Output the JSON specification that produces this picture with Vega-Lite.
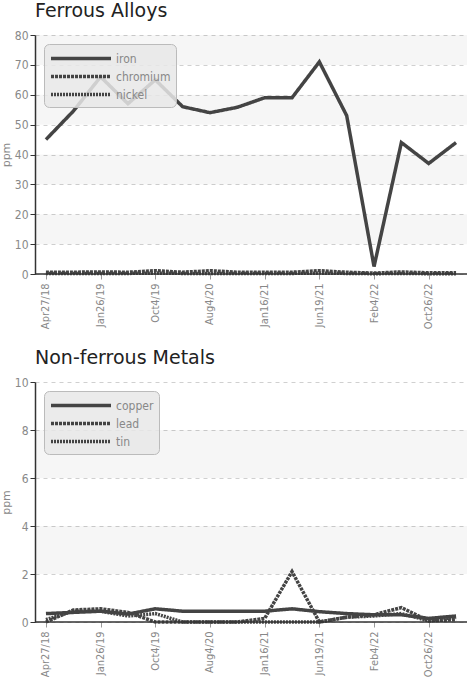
{
  "$schema": "https://vega.github.io/schema/vega-lite/v6.json",
  "padding": {"left": 0, "top": 2, "right": 0, "bottom": 0},
  "background": "white",
  "spacing": 20,
  "config": {
    "view": {"stroke": null},
    "title": {"font": "DejaVu Sans", "fontSize": 19, "fontWeight": "normal", "color": "#222", "anchor": "start", "frame": "group", "offset": 8},
    "axis": {"labelFont": "'DejaVu Sans Condensed', 'Liberation Sans Narrow', Roboto, sans-serif", "labelFontSize": 12, "labelColor": "#888", "labelOverlap": false, "titleFont": "DejaVu Sans", "titleFontSize": 11, "titleFontWeight": "normal", "titleColor": "#888", "domainColor": "#333", "domainWidth": 1.5, "tickColor": "#333", "gridColor": "#d0d0d0", "gridDash": [4, 4], "tickSize": 5},
    "axisX": {"labelFontSize": 11},
    "legend": {"orient": "top-left", "offset": 9, "fillColor": "rgba(232,232,232,0.85)", "strokeColor": "#bbb", "cornerRadius": 5, "padding": 5, "labelColor": "#888", "labelFont": "'DejaVu Sans Condensed', 'Liberation Sans Narrow', Roboto, sans-serif", "labelFontSize": 12, "symbolType": "M-1,0H7", "symbolSize": 225, "symbolStrokeColor": "#444", "rowPadding": 1, "labelOffset": 48}
  },
  "datasets": {
    "bands1": [{"lo": 10, "hi": 20}, {"lo": 30, "hi": 40}, {"lo": 50, "hi": 60}, {"lo": 70, "hi": 80}],
    "bands2": [{"lo": 2, "hi": 4}, {"lo": 6, "hi": 8}],
    "ferrous": [
      {"date": "Apr27/18", "metal": "iron", "ppm": 45},
      {"date": "Sep14/18", "metal": "iron", "ppm": 54.5},
      {"date": "Jan26/19", "metal": "iron", "ppm": 66},
      {"date": "Jun5/19", "metal": "iron", "ppm": 57},
      {"date": "Oct4/19", "metal": "iron", "ppm": 65},
      {"date": "Feb20/20", "metal": "iron", "ppm": 56},
      {"date": "Aug4/20", "metal": "iron", "ppm": 54},
      {"date": "Nov10/20", "metal": "iron", "ppm": 55.8},
      {"date": "Jan16/21", "metal": "iron", "ppm": 59},
      {"date": "Mar30/21", "metal": "iron", "ppm": 59},
      {"date": "Jun19/21", "metal": "iron", "ppm": 71},
      {"date": "Sep24/21", "metal": "iron", "ppm": 53},
      {"date": "Feb4/22", "metal": "iron", "ppm": 2.5},
      {"date": "Jun8/22", "metal": "iron", "ppm": 44},
      {"date": "Oct26/22", "metal": "iron", "ppm": 37},
      {"date": "Feb15/23", "metal": "iron", "ppm": 44},
      {"date": "Apr27/18", "metal": "chromium", "ppm": 0.6},
      {"date": "Sep14/18", "metal": "chromium", "ppm": 0.6},
      {"date": "Jan26/19", "metal": "chromium", "ppm": 0.7},
      {"date": "Jun5/19", "metal": "chromium", "ppm": 0.6},
      {"date": "Oct4/19", "metal": "chromium", "ppm": 1.1},
      {"date": "Feb20/20", "metal": "chromium", "ppm": 0.6},
      {"date": "Aug4/20", "metal": "chromium", "ppm": 1.1},
      {"date": "Nov10/20", "metal": "chromium", "ppm": 0.6},
      {"date": "Jan16/21", "metal": "chromium", "ppm": 0.6},
      {"date": "Mar30/21", "metal": "chromium", "ppm": 0.6},
      {"date": "Jun19/21", "metal": "chromium", "ppm": 1.1},
      {"date": "Sep24/21", "metal": "chromium", "ppm": 0.6},
      {"date": "Feb4/22", "metal": "chromium", "ppm": 0.3},
      {"date": "Jun8/22", "metal": "chromium", "ppm": 0.7},
      {"date": "Oct26/22", "metal": "chromium", "ppm": 0.4},
      {"date": "Feb15/23", "metal": "chromium", "ppm": 0.4},
      {"date": "Apr27/18", "metal": "nickel", "ppm": 0.2},
      {"date": "Sep14/18", "metal": "nickel", "ppm": 0.2},
      {"date": "Jan26/19", "metal": "nickel", "ppm": 0.2},
      {"date": "Jun5/19", "metal": "nickel", "ppm": 0.2},
      {"date": "Oct4/19", "metal": "nickel", "ppm": 0.3},
      {"date": "Feb20/20", "metal": "nickel", "ppm": 0.2},
      {"date": "Aug4/20", "metal": "nickel", "ppm": 0.2},
      {"date": "Nov10/20", "metal": "nickel", "ppm": 0.2},
      {"date": "Jan16/21", "metal": "nickel", "ppm": 0.2},
      {"date": "Mar30/21", "metal": "nickel", "ppm": 0.2},
      {"date": "Jun19/21", "metal": "nickel", "ppm": 0.3},
      {"date": "Sep24/21", "metal": "nickel", "ppm": 0.2},
      {"date": "Feb4/22", "metal": "nickel", "ppm": 0.1},
      {"date": "Jun8/22", "metal": "nickel", "ppm": 0.2},
      {"date": "Oct26/22", "metal": "nickel", "ppm": 0.1},
      {"date": "Feb15/23", "metal": "nickel", "ppm": 0.1}
    ],
    "nonferrous": [
      {"date": "Apr27/18", "metal": "copper", "ppm": 0.35},
      {"date": "Sep14/18", "metal": "copper", "ppm": 0.4},
      {"date": "Jan26/19", "metal": "copper", "ppm": 0.45},
      {"date": "Jun5/19", "metal": "copper", "ppm": 0.33},
      {"date": "Oct4/19", "metal": "copper", "ppm": 0.55},
      {"date": "Feb20/20", "metal": "copper", "ppm": 0.45},
      {"date": "Aug4/20", "metal": "copper", "ppm": 0.45},
      {"date": "Nov10/20", "metal": "copper", "ppm": 0.45},
      {"date": "Jan16/21", "metal": "copper", "ppm": 0.45},
      {"date": "Mar30/21", "metal": "copper", "ppm": 0.55},
      {"date": "Jun19/21", "metal": "copper", "ppm": 0.43},
      {"date": "Sep24/21", "metal": "copper", "ppm": 0.35},
      {"date": "Feb4/22", "metal": "copper", "ppm": 0.3},
      {"date": "Jun8/22", "metal": "copper", "ppm": 0.3},
      {"date": "Oct26/22", "metal": "copper", "ppm": 0.15},
      {"date": "Feb15/23", "metal": "copper", "ppm": 0.25},
      {"date": "Apr27/18", "metal": "lead", "ppm": 0.0},
      {"date": "Sep14/18", "metal": "lead", "ppm": 0.5},
      {"date": "Jan26/19", "metal": "lead", "ppm": 0.55},
      {"date": "Jun5/19", "metal": "lead", "ppm": 0.4},
      {"date": "Oct4/19", "metal": "lead", "ppm": 0.0},
      {"date": "Feb20/20", "metal": "lead", "ppm": 0.0},
      {"date": "Aug4/20", "metal": "lead", "ppm": 0.0},
      {"date": "Nov10/20", "metal": "lead", "ppm": 0.0},
      {"date": "Jan16/21", "metal": "lead", "ppm": 0.15},
      {"date": "Mar30/21", "metal": "lead", "ppm": 2.1},
      {"date": "Jun19/21", "metal": "lead", "ppm": 0.0},
      {"date": "Sep24/21", "metal": "lead", "ppm": 0.2},
      {"date": "Feb4/22", "metal": "lead", "ppm": 0.3},
      {"date": "Jun8/22", "metal": "lead", "ppm": 0.6},
      {"date": "Oct26/22", "metal": "lead", "ppm": 0.05},
      {"date": "Feb15/23", "metal": "lead", "ppm": 0.1},
      {"date": "Apr27/18", "metal": "tin", "ppm": 0.1},
      {"date": "Sep14/18", "metal": "tin", "ppm": 0.45},
      {"date": "Jan26/19", "metal": "tin", "ppm": 0.45},
      {"date": "Jun5/19", "metal": "tin", "ppm": 0.25},
      {"date": "Oct4/19", "metal": "tin", "ppm": 0.35},
      {"date": "Feb20/20", "metal": "tin", "ppm": 0.0},
      {"date": "Aug4/20", "metal": "tin", "ppm": 0.0},
      {"date": "Nov10/20", "metal": "tin", "ppm": 0.0},
      {"date": "Jan16/21", "metal": "tin", "ppm": 0.0},
      {"date": "Mar30/21", "metal": "tin", "ppm": 0.0},
      {"date": "Jun19/21", "metal": "tin", "ppm": 0.0},
      {"date": "Sep24/21", "metal": "tin", "ppm": 0.2},
      {"date": "Feb4/22", "metal": "tin", "ppm": 0.25},
      {"date": "Jun8/22", "metal": "tin", "ppm": 0.35},
      {"date": "Oct26/22", "metal": "tin", "ppm": 0.05},
      {"date": "Feb15/23", "metal": "tin", "ppm": 0.2}
    ]
  },
  "vconcat": [
    {
      "title": "Ferrous Alloys",
      "width": 432,
      "height": 239,
      "layer": [
        {
          "data": {"name": "bands1"},
          "mark": {"type": "rect", "fill": "#000", "opacity": 0.035},
          "encoding": {
            "y": {"field": "lo", "type": "quantitative", "scale": {"domain": [0, 80], "nice": false},
              "axis": {"title": "ppm", "values": [0, 10, 20, 30, 40, 50, 60, 70, 80], "titlePadding": 3}},
            "y2": {"field": "hi"}
          }
        },
        {
          "data": {"name": "ferrous"},
          "mark": {"type": "line", "color": "#444"},
          "encoding": {
            "x": {"field": "date", "type": "ordinal", "sort": null, "scale": {"type": "point", "padding": 0.4},
              "axis": {"title": null, "labelAngle": -90, "labelPadding": 4, "domain": false,
                "labelExpr": "indexof(['Apr27/18','Jan26/19','Oct4/19','Aug4/20','Jan16/21','Jun19/21','Feb4/22','Oct26/22'], datum.value) >= 0 ? datum.label : ''",
                "gridColor": {"condition": {"test": "indexof(['Apr27/18','Jan26/19','Oct4/19','Aug4/20','Jan16/21','Jun19/21','Feb4/22','Oct26/22'], datum.value) >= 0", "value": "#cfcfcf"}, "value": "#e6e6e6"},
                "tickColor": {"condition": {"test": "indexof(['Apr27/18','Jan26/19','Oct4/19','Aug4/20','Jan16/21','Jun19/21','Feb4/22','Oct26/22'], datum.value) >= 0", "value": "#999"}, "value": "rgba(0,0,0,0)"}}},
            "y": {"field": "ppm", "type": "quantitative", "scale": {"domain": [0, 80], "nice": false},
              "axis": {"title": "ppm", "values": [0, 10, 20, 30, 40, 50, 60, 70, 80], "titlePadding": 3}},
            "strokeDash": {"field": "metal", "type": "nominal", "scale": {"domain": ["iron", "chromium", "nickel"], "range": [[1, 0], [3, 1], [2, 1]]}, "legend": {"title": null}},
            "strokeWidth": {"field": "metal", "type": "nominal", "scale": {"domain": ["iron", "chromium", "nickel"], "range": [3.5, 3.5, 2.5]}, "legend": {"title": null}}
          }
        },
        {
          "data": {"values": [{"v": 0}]},
          "mark": {"type": "rule", "color": "#333", "strokeWidth": 1.5},
          "encoding": {"y": {"field": "v", "type": "quantitative",
            "axis": {"title": "ppm", "values": [0, 10, 20, 30, 40, 50, 60, 70, 80], "titlePadding": 3}}}
        }
      ]
    },
    {
      "title": "Non-ferrous Metals",
      "width": 432,
      "height": 240,
      "layer": [
        {
          "data": {"name": "bands2"},
          "mark": {"type": "rect", "fill": "#000", "opacity": 0.035},
          "encoding": {
            "y": {"field": "lo", "type": "quantitative", "scale": {"domain": [0, 10], "nice": false},
              "axis": {"title": "ppm", "values": [0, 2, 4, 6, 8, 10], "titlePadding": 3}},
            "y2": {"field": "hi"}
          }
        },
        {
          "data": {"name": "nonferrous"},
          "mark": {"type": "line", "color": "#444"},
          "encoding": {
            "x": {"field": "date", "type": "ordinal", "sort": null, "scale": {"type": "point", "padding": 0.4},
              "axis": {"title": null, "labelAngle": -90, "labelPadding": 4, "domain": false,
                "labelExpr": "indexof(['Apr27/18','Jan26/19','Oct4/19','Aug4/20','Jan16/21','Jun19/21','Feb4/22','Oct26/22'], datum.value) >= 0 ? datum.label : ''",
                "gridColor": {"condition": {"test": "indexof(['Apr27/18','Jan26/19','Oct4/19','Aug4/20','Jan16/21','Jun19/21','Feb4/22','Oct26/22'], datum.value) >= 0", "value": "#cfcfcf"}, "value": "#e6e6e6"},
                "tickColor": {"condition": {"test": "indexof(['Apr27/18','Jan26/19','Oct4/19','Aug4/20','Jan16/21','Jun19/21','Feb4/22','Oct26/22'], datum.value) >= 0", "value": "#999"}, "value": "rgba(0,0,0,0)"}}},
            "y": {"field": "ppm", "type": "quantitative", "scale": {"domain": [0, 10], "nice": false},
              "axis": {"title": "ppm", "values": [0, 2, 4, 6, 8, 10], "titlePadding": 3}},
            "strokeDash": {"field": "metal", "type": "nominal", "scale": {"domain": ["copper", "lead", "tin"], "range": [[1, 0], [3, 1], [2, 1]]}, "legend": {"title": null}},
            "strokeWidth": {"field": "metal", "type": "nominal", "scale": {"domain": ["copper", "lead", "tin"], "range": [3.5, 3.5, 2.5]}, "legend": {"title": null}}
          }
        },
        {
          "data": {"values": [{"v": 0}]},
          "mark": {"type": "rule", "color": "#333", "strokeWidth": 1.5},
          "encoding": {"y": {"field": "v", "type": "quantitative",
            "axis": {"title": "ppm", "values": [0, 2, 4, 6, 8, 10], "titlePadding": 3}}}
        }
      ]
    }
  ],
  "resolve": {"scale": {"strokeDash": "independent", "strokeWidth": "independent"}, "legend": {"strokeDash": "independent", "strokeWidth": "independent"}}
}
